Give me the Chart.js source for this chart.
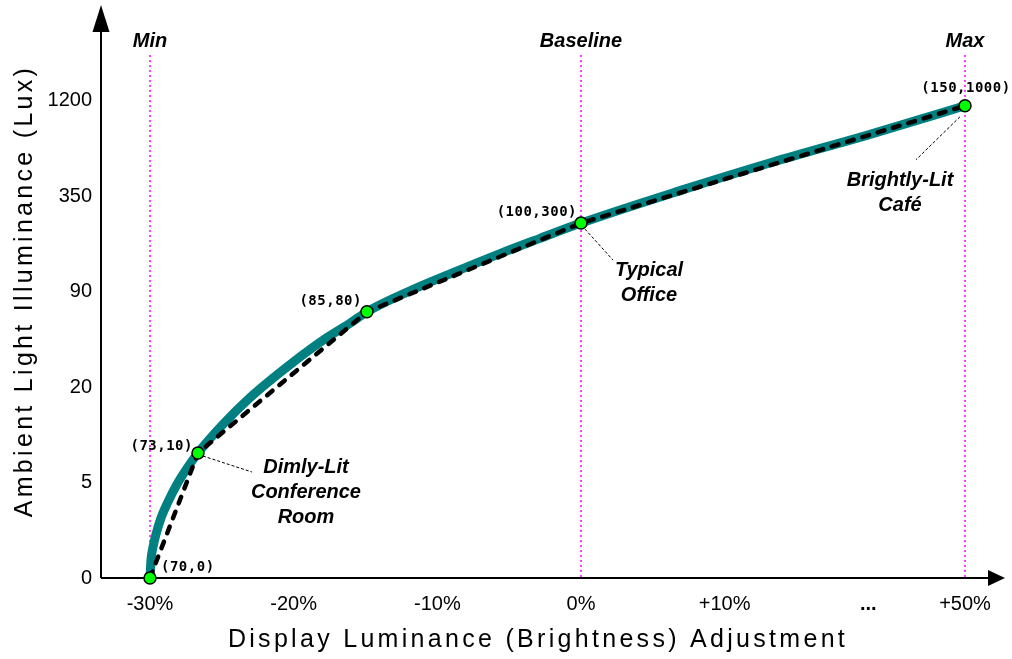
<!DOCTYPE html>
<html>
<head>
<meta charset="utf-8">
<script src="https://cdn.jsdelivr.net/npm/chart.js@4.4.1/dist/chart.umd.min.js"></script>
<style>
  html, body { margin: 0; padding: 0; background: #fff; }
  #wrap { width: 1012px; height: 659px; position: relative; }
</style>
</head>
<body>
<div id="wrap"><canvas id="chart"></canvas></div>
<script>
// x axis: brightness adjustment in %, the axis is broken after +20% ("...")
const xTickPos = [-30, -20, -10, 0, 10, 20, 26.73];
const xTickLabels = ['-30%', '-20%', '-10%', '0%', '+10%', '...', '+50%'];

// y axis: equally spaced lux steps
const yTickPos = [0, 1, 2, 3, 4, 5];
const yTickLabels = ['0', '5', '20', '90', '350', '1200'];

// measured set points (dashed line + green markers)
const pointX = [-30, -26.66, -14.9, 0, 26.73];
const pointY = [0, 1.31, 2.79, 3.72, 4.95];
const pointLabels = ['(70,0)', '(73,10)', '(85,80)', '(100,300)', '(150,1000)'];

// smooth response curve (teal)
const curveX = [-30, -29.93, -29.79, -29.58, -29.23, -28.74, -28.11, -27.42, -26.66, -24.92,
                -23.04, -20.05, -17.68, -16.08, -14.9, -11.9, -8.91, -5.64, -2.85, 0,
                6.89, 13.36, 20.12, 26.73];
const curveY = [0, 0.19, 0.325, 0.46, 0.63, 0.8, 0.985, 1.15, 1.31, 1.61,
                1.89, 2.26, 2.52, 2.67, 2.79, 3.01, 3.2, 3.4, 3.56, 3.72,
                4.06, 4.36, 4.65, 4.95];

// vertical reference lines
const markerX = [-30, 0, 26.73];
const markerLabels = ['Min', 'Baseline', 'Max'];

// callouts, attached to set points
const noteAt = [1, 3, 4];
const noteText = [['Dimly-Lit', 'Conference', 'Room'], ['Typical', 'Office'], ['Brightly-Lit', 'Café']];

const xTitle = 'Display Luminance (Brightness) Adjustment';
const yTitle = 'Ambient Light Illuminance (Lux)';

// layout offsets (pixels) for labels drawn by the plugin
const labelOffset = [[11, -11, 'left'], [-5, -7, 'right'], [-5, -10, 'right'], [-4, -11, 'right'], [1, -17, 'center']];
const leaderOffset = { 1: [5, 3, 54, 19], 3: [4, 6, 32, 37], 4: [-5, 11, -49, 54] };
const noteOffset = { 1: [108, 14], 3: [68, 47], 4: [-65, 75] };

const SANS = '"Liberation Sans", Arial, sans-serif';

const decor = {
    id: 'decor',
    beforeDatasetsDraw(chart) {
        const { ctx, chartArea: a, scales: { x } } = chart;
        ctx.save();

        // dotted magenta guides
        ctx.strokeStyle = '#ff00ff';
        ctx.lineWidth = 1.5;
        ctx.setLineDash([2, 3]);
        markerX.forEach(v => {
            const px = Math.round(x.getPixelForValue(v));
            ctx.beginPath();
            ctx.moveTo(px, a.top + 23);
            ctx.lineTo(px, a.bottom);
            ctx.stroke();
        });
        ctx.setLineDash([]);

        ctx.fillStyle = '#000';
        ctx.font = 'italic bold 20px ' + SANS;
        ctx.textAlign = 'center';
        ctx.textBaseline = 'middle';
        markerX.forEach((v, i) => ctx.fillText(markerLabels[i], x.getPixelForValue(v), 41));

        // axes with arrow heads
        ctx.strokeStyle = '#000';
        ctx.lineWidth = 2;
        ctx.beginPath();
        ctx.moveTo(a.left, a.bottom);
        ctx.lineTo(a.left, a.top);
        ctx.moveTo(a.left, a.bottom);
        ctx.lineTo(a.right, a.bottom);
        ctx.stroke();

        ctx.beginPath();
        ctx.moveTo(a.left, a.top - 27);
        ctx.lineTo(a.left - 8.5, a.top);
        ctx.lineTo(a.left + 8.5, a.top);
        ctx.closePath();
        ctx.fill();

        ctx.beginPath();
        ctx.moveTo(a.right + 17, a.bottom);
        ctx.lineTo(a.right, a.bottom - 8);
        ctx.lineTo(a.right, a.bottom + 8);
        ctx.closePath();
        ctx.fill();

        ctx.restore();
    },
    afterDatasetsDraw(chart) {
        const { ctx, scales: { x, y } } = chart;
        ctx.save();
        const px = i => x.getPixelForValue(pointX[i]);
        const py = i => y.getPixelForValue(pointY[i]);

        // leader lines to callouts
        ctx.strokeStyle = '#000';
        ctx.lineWidth = 1;
        ctx.setLineDash([3, 2]);
        Object.keys(leaderOffset).forEach(k => {
            const o = leaderOffset[k];
            ctx.beginPath();
            ctx.moveTo(px(k) + o[0], py(k) + o[1]);
            ctx.lineTo(px(k) + o[2], py(k) + o[3]);
            ctx.stroke();
        });
        ctx.setLineDash([]);

        // coordinate labels
        ctx.fillStyle = '#000';
        ctx.font = 'bold 14px "DejaVu Sans Mono", monospace';
        ctx.letterSpacing = '0.5px';
        ctx.textBaseline = 'middle';
        pointLabels.forEach((t, i) => {
            const o = labelOffset[i];
            ctx.textAlign = o[2];
            ctx.fillText(t, px(i) + o[0], py(i) + o[1]);
        });
        ctx.letterSpacing = '0px';

        // callout text
        ctx.font = 'italic bold 20px ' + SANS;
        ctx.textAlign = 'center';
        noteAt.forEach((k, n) => {
            const o = noteOffset[k];
            noteText[n].forEach((line, j) => {
                ctx.fillText(line, px(k) + o[0], py(k) + o[1] + j * 25);
            });
        });

        // axis titles
        ctx.font = '25px ' + SANS;
        ctx.letterSpacing = '3.3px';
        ctx.fillText(xTitle, 538, 640);
        ctx.translate(25, 291);
        ctx.rotate(-Math.PI / 2);
        ctx.fillText(yTitle, 0, 0);
        ctx.restore();
    }
};

new Chart(document.getElementById('chart'), {
    type: 'line',
    data: {
        datasets: [
            {
                label: 'Set points',
                data: pointX.map((v, i) => ({ x: v, y: pointY[i] })),
                borderColor: '#000',
                borderWidth: 4.5,
                borderDash: [7, 9],
                borderCapStyle: 'round',
                tension: 0,
                pointRadius: 6,
                pointBorderWidth: 1.5,
                pointBackgroundColor: '#00ff00',
                pointBorderColor: '#000',
                clip: false,
                order: 0
            },
            {
                label: 'Response curve',
                data: curveX.map((v, i) => ({ x: v, y: curveY[i] })),
                borderColor: '#008080',
                borderWidth: 9,
                cubicInterpolationMode: 'monotone',
                pointRadius: 0,
                clip: false,
                order: 1
            }
        ]
    },
    options: {
        responsive: true,
        maintainAspectRatio: false,
        animation: false,
        layout: { padding: { top: 32, right: 24, bottom: 0, left: 0 } },
        plugins: {
            legend: { display: false },
            tooltip: { enabled: false }
        },
        scales: {
            x: {
                type: 'linear',
                min: -33.41,
                max: 28.33,
                grid: { display: false, drawTicks: false },
                border: { display: false },
                afterBuildTicks: scale => { scale.ticks = xTickPos.map(v => ({ value: v })); },
                afterFit: scale => { scale.height = 81; },
                ticks: {
                    padding: 14,
                    color: '#000',
                    autoSkip: false,
                    maxRotation: 0,
                    font: ctx => ({ family: SANS, size: 20, weight: xTickLabels[ctx.index] === '...' ? 'bold' : 'normal' }),
                    callback: (value, index) => xTickLabels[index]
                }
            },
            y: {
                type: 'linear',
                min: 0,
                max: 5.723,
                grid: { display: false, drawTicks: false },
                border: { display: false },
                afterBuildTicks: scale => { scale.ticks = yTickPos.map(v => ({ value: v })); },
                afterFit: scale => { scale.width = 101; },
                ticks: {
                    padding: 9,
                    color: '#000',
                    autoSkip: false,
                    font: { family: SANS, size: 20 },
                    callback: (value, index) => yTickLabels[index]
                }
            }
        }
    },
    plugins: [decor]
});
</script>
</body>
</html>
